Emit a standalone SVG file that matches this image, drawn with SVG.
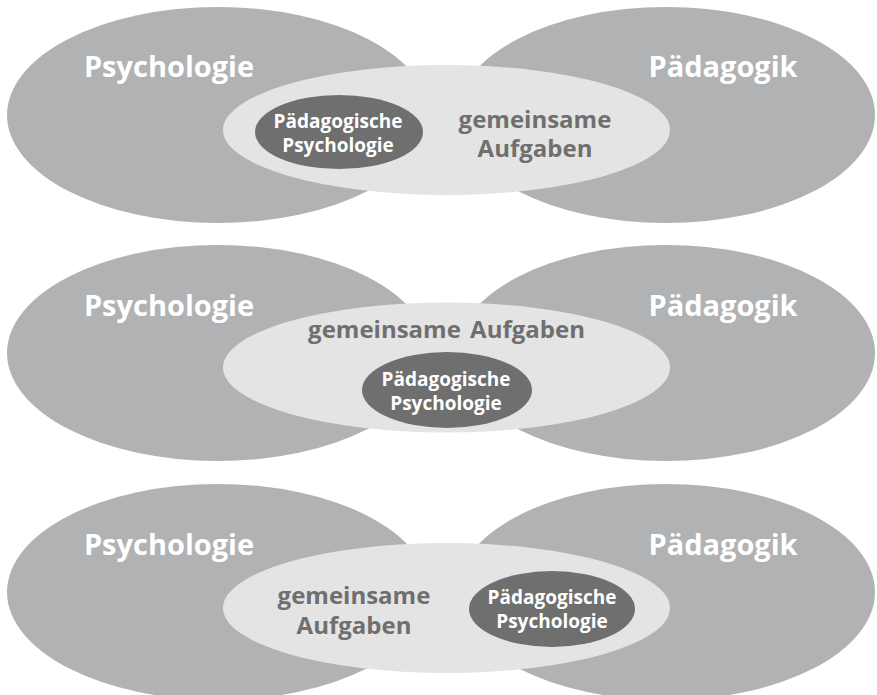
<svg xmlns="http://www.w3.org/2000/svg" width="877" height="695" viewBox="0 0 877 695">
<style>
.big{fill:#b1b2b4}
.light{fill:#e4e4e4}
.dark{fill:#6f6f6f}
text{font-family:"Open Sans","Liberation Sans",sans-serif;font-weight:bold;text-anchor:middle}
.bl{font-size:29px;fill:#ffffff}
.dl{font-size:19px;fill:#ffffff}
.gl{font-size:24px;fill:#6f6f6f}
</style>
<rect width="877" height="695" fill="#ffffff"/>
<g id="connectors"></g>
<g id="row1">
<g id="psych1"><ellipse class="big" cx="218" cy="115" rx="211" ry="108"/><text class="bl" x="169" y="77">Psychologie</text></g>
<g id="paed1"><ellipse class="big" cx="666" cy="115" rx="209" ry="108"/><text class="bl" x="723" y="77">Pädagogik</text></g>
<g id="gem1"><ellipse class="light" cx="446.5" cy="130" rx="223.5" ry="65"/><text class="gl" x="535" y="128">gemeinsame</text><text class="gl" x="535" y="157">Aufgaben</text></g>
<g id="pp1"><ellipse class="dark" cx="339" cy="132" rx="84" ry="37"/><text class="dl" x="338" y="128">Pädagogische</text><text class="dl" x="338" y="152">Psychologie</text></g>
</g>
<g id="row2">
<g id="psych2"><ellipse class="big" cx="218" cy="353" rx="211" ry="108"/><text class="bl" x="169" y="316">Psychologie</text></g>
<g id="paed2"><ellipse class="big" cx="666" cy="353" rx="209" ry="108"/><text class="bl" x="723" y="316">Pädagogik</text></g>
<g id="gem2"><ellipse class="light" cx="446.5" cy="367.5" rx="223.5" ry="65"/><text class="gl" x="446.5" y="338" word-spacing="3">gemeinsame Aufgaben</text></g>
<g id="pp2"><ellipse class="dark" cx="447" cy="390" rx="85" ry="38"/><text class="dl" x="446" y="386">Pädagogische</text><text class="dl" x="446" y="410">Psychologie</text></g>
</g>
<g id="row3">
<g id="psych3"><ellipse class="big" cx="218" cy="592" rx="211" ry="108"/><text class="bl" x="169" y="555">Psychologie</text></g>
<g id="paed3"><ellipse class="big" cx="666" cy="592" rx="209" ry="108"/><text class="bl" x="723" y="555">Pädagogik</text></g>
<g id="gem3"><ellipse class="light" cx="446.5" cy="608" rx="223.5" ry="65"/><text class="gl" x="354" y="604">gemeinsame</text><text class="gl" x="354" y="634">Aufgaben</text></g>
<g id="pp3"><ellipse class="dark" cx="552" cy="609" rx="83" ry="38"/><text class="dl" x="552" y="604">Pädagogische</text><text class="dl" x="552" y="628">Psychologie</text></g>
</g>
</svg>
